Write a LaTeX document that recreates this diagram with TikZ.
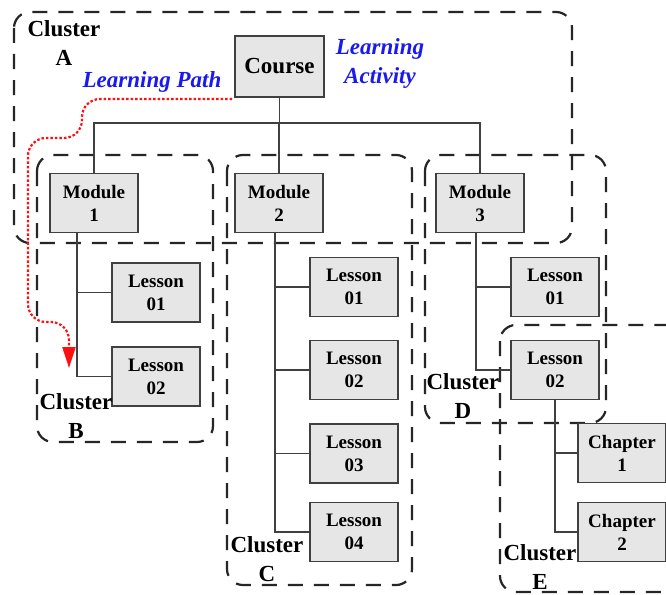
\documentclass[tikz,border=0pt]{standalone}
\usepackage{fontspec}
\setmainfont{Liberation Serif}
\usetikzlibrary{arrows.meta}
\definecolor{boxfill}{HTML}{E6E6E6}
\definecolor{boxline}{HTML}{404040}
\definecolor{pathred}{HTML}{FF1010}
\definecolor{actblue}{HTML}{1A1AF0}
\begin{document}
\begin{tikzpicture}[x=1pt,y=-1pt,
  cluster/.style={draw=black!85, line width=2.2pt, dash pattern=on 15pt off 11pt, rounded corners=16pt},
  unit/.style={draw=boxline, fill=boxfill, line width=1.5pt, minimum width=88pt, minimum height=59pt,
    inner sep=0pt, align=center, font=\bfseries\fontsize{19}{23}\selectfont},
  link/.style={draw=boxline, line width=1.4pt},
  clabel/.style={align=center, inner sep=0pt, font=\bfseries\fontsize{23}{29}\selectfont},
  note/.style={text=actblue, align=center, inner sep=0pt, font=\bfseries\itshape\fontsize{23}{29}\selectfont},
  lpath/.style={draw=pathred, line width=2.2pt, dash pattern=on 2.5pt off 2pt, rounded corners=18pt,
    -{Triangle[length=21pt,width=13pt,fill=pathred]}}
]
\useasboundingbox (0,0) rectangle (666,594);
\clip (0,0) rectangle (666,594);
\fill[white] (0,0) rectangle (666,594);

% clusters
\draw[cluster] (14,12) rectangle (572,243);
\draw[cluster] (37,155) rectangle (213,442);
\draw[cluster] (227,155) rectangle (412,585);
\draw[cluster] (425,155) rectangle (606,423);
\draw[cluster] (500,325) rectangle (700,592);

% units
\node[unit, minimum width=89pt, minimum height=61pt, font=\bfseries\fontsize{23}{28}\selectfont] (course) at (279.5,66.5) {Course};
\node[unit] (m1) at (94,203) {Module\\1};
\node[unit] (m2) at (279,203) {Module\\2};
\node[unit] (m3) at (480,203) {Module\\3};
\node[unit] (b1) at (156,292.5) {Lesson\\01};
\node[unit] (b2) at (156,376.5) {Lesson\\02};
\node[unit] (c1) at (354,287) {Lesson\\01};
\node[unit] (c2) at (354,370) {Lesson\\02};
\node[unit] (c3) at (354,453.5) {Lesson\\03};
\node[unit] (c4) at (354,532) {Lesson\\04};
\node[unit] (d1) at (555,287) {Lesson\\01};
\node[unit] (d2) at (555,370) {Lesson\\02};
\node[unit] (e1) at (622,453) {Chapter\\1};
\node[unit] (e2) at (622,532) {Chapter\\2};

% tree links
\coordinate (bus) at (279,123);
\draw[link] (course.south) -- (course.south |- bus);
\draw[link] (m1.north) -- (m1.north |- bus) -- (m3.north |- bus) -- (m3.north);
\draw[link] (m2.north) -- (m2.north |- bus);

\coordinate (s1) at ([xshift=-17pt]m1.south);
\draw[link] (s1) |- (b2.west);
\draw[link] (b1.west) -- (b1.west -| s1);

\coordinate (s2) at ([xshift=-4pt]m2.south);
\draw[link] (s2) |- (c4.west);
\draw[link] (c1.west) -- (c1.west -| s2);
\draw[link] (c2.west) -- (c2.west -| s2);
\draw[link] (c3.west) -- (c3.west -| s2);

\coordinate (s3) at ([xshift=-4pt]m3.south);
\draw[link] (s3) |- (d2.west);
\draw[link] (d1.west) -- (d1.west -| s3);

\draw[link] (d2.south) |- (e2.west);
\draw[link] (e1.west) -- (e1.west -| d2.south);

% cluster labels
\node[clabel] (la) at (64,43) {Cluster\\A};
\node[clabel] (lb) at (76,416) {Cluster\\B};
\node[clabel] (lc) at (267,559) {Cluster\\C};
\node[clabel] (ld) at (463,396) {Cluster\\D};
\node[clabel] (le) at (540,567) {Cluster\\E};

% annotations
\node[note] (lpt) at (152,82) {Learning Path};
\node[note] (lact) at (380,64) {Learning\\Activity};

% learning path
\coordinate (p0) at (232,99);
\coordinate (p1) at (69,368);
\draw[lpath] (p0) -- (82,99) -- (82,138) -- (28,138) -- (28,322) -- (69,322) -- (p1);
\end{tikzpicture}
\end{document}
